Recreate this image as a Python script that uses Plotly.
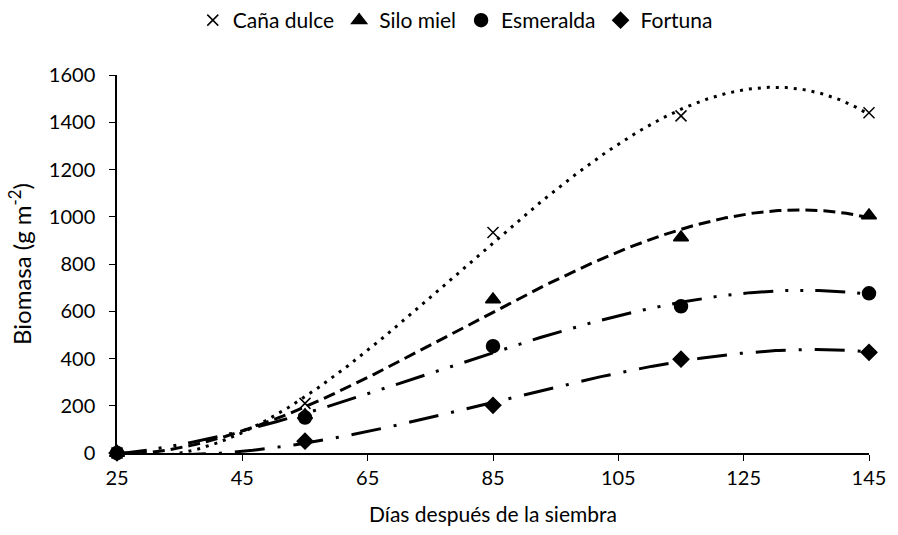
import numpy as np
import plotly.graph_objects as go

dias = [25, 55, 85, 115, 145]
cana_dulce = [0, 210, 933, 1427, 1440]
silo_miel = [0, 160, 650, 912, 1005]
esmeralda = [0, 150, 452, 621, 676]
fortuna = [0, 50, 202, 397, 426]

series = [
    ("Caña dulce", cana_dulce, "x-thin-open", 11, "3px,6px"),
    ("Silo miel", silo_miel, "triangle-up", 13, "12px,6px"),
    ("Esmeralda", esmeralda, "circle", 13, "30px,12px,3px,12px,3px,12px"),
    ("Fortuna", fortuna, "diamond", 12, "30px,13px,3px,13px"),
]

fig = go.Figure()
xs = np.linspace(min(dias), max(dias), 300)
for name, vals, sym, size, dash in series:
    coef = np.polyfit(dias, vals, 3)
    fig.add_trace(go.Scatter(
        x=xs, y=np.polyval(coef, xs), mode="lines", showlegend=False,
        line=dict(color="black", width=3, dash=dash), hoverinfo="skip"))
for name, vals, sym, size, dash in series:
    fig.add_trace(go.Scatter(
        x=dias, y=vals, mode="markers", name=name, cliponaxis=False,
        marker=dict(symbol=sym, size=size, color="black",
                    line=dict(color="black", width=1.5))))

font = "Lato, 'Open Sans', sans-serif"
fig.update_layout(
    width=898, height=535,
    margin=dict(l=117, r=19, t=75, b=81),
    plot_bgcolor="white", paper_bgcolor="white",
    font=dict(family=font, size=18, color="black"),
    legend=dict(orientation="h", x=0.507, xanchor="center", xref="container",
                y=1.0, yanchor="top", yref="container", font=dict(size=21),
                itemwidth=30, traceorder="normal"),
    xaxis=dict(range=[25, 145], tickvals=[25, 45, 65, 85, 105, 125, 145],
               showgrid=False, zeroline=False, showline=True, linecolor="black",
               linewidth=1.5, ticks="outside", ticklen=6, tickcolor="black",
               tickfont=dict(size=20),
               title=dict(text="Días después de la siembra", font=dict(size=21),
                          standoff=20)),
    yaxis=dict(range=[0, 1600], dtick=200, showgrid=False, zeroline=False,
               showline=True, linecolor="black", linewidth=1.5, ticks="outside",
               ticklen=6, tickcolor="black", tickfont=dict(size=20),
               ticklabelstandoff=10,
               title=dict(text="Biomasa (g m<sup>-2</sup>)", font=dict(size=24),
                          standoff=10)),
)
fig.write_html("out.html")
